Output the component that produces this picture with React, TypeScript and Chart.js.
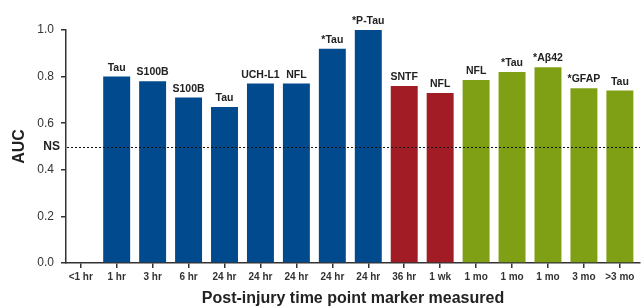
import React, { useEffect, useRef } from "react";
import { Chart, registerables } from "chart.js";

Chart.register(...registerables);

const categories = ["<1 hr", "1 hr", "3 hr", "6 hr", "24 hr", "24 hr", "24 hr", "24 hr", "24 hr", "36 hr", "1 wk", "1 mo", "1 mo", "1 mo", "3 mo", ">3 mo"];
const aucValues: (number | null)[] = [null, 0.8, 0.78, 0.71, 0.67, 0.77, 0.77, 0.92, 1.0, 0.76, 0.73, 0.785, 0.82, 0.84, 0.75, 0.74];
const markers = ["", "Tau", "S100B", "S100B", "Tau", "UCH-L1", "NFL", "*Tau", "*P-Tau", "SNTF", "NFL", "NFL", "*Tau", "*Aβ42", "*GFAP", "Tau"];
const phases = ["", "early", "early", "early", "early", "early", "early", "early", "early", "mid", "mid", "late", "late", "late", "late", "late"];
const yTicks = [0, 0.2, 0.4, 0.6, 0.8, 1.0];
const nsThreshold = 0.5;

const phaseColors: Record<string, string> = {
  early: "#004a8d",
  mid: "#a11c24",
  late: "#7fa014",
  "": "#000000",
};

const FONT = "'Liberation Sans', Arial, Helvetica, sans-serif";

export default function App() {
  const ref = useRef<HTMLCanvasElement | null>(null);

  useEffect(() => {
    document.body.style.margin = "0";
    const canvas = ref.current;
    if (!canvas) return;
    Chart.defaults.font.family = FONT;

    const labelPlugin = {
      id: "barLabels",
      afterDatasetsDraw(chart: any) {
        const ctx = chart.ctx;
        const meta = chart.getDatasetMeta(0);
        ctx.save();
        ctx.font = `bold 10.5px ${FONT}`;
        ctx.fillStyle = "#222";
        ctx.textAlign = "center";
        ctx.textBaseline = "alphabetic";
        meta.data.forEach((el: any, i: number) => {
          if (aucValues[i] == null || !markers[i]) return;
          ctx.fillText(markers[i], el.x, el.y - 6);
        });
        ctx.restore();
      },
    };

    const nsPlugin = {
      id: "nsLine",
      afterDatasetsDraw(chart: any) {
        const ctx = chart.ctx;
        const y = chart.scales.y.getPixelForValue(nsThreshold);
        const { left, right } = chart.chartArea;
        ctx.save();
        ctx.strokeStyle = "#111";
        ctx.lineWidth = 1;
        ctx.setLineDash([2, 2]);
        ctx.beginPath();
        ctx.moveTo(left + 1, Math.round(y) + 0.5);
        ctx.lineTo(right, Math.round(y) + 0.5);
        ctx.stroke();
        ctx.setLineDash([]);
        ctx.font = `bold 12px ${FONT}`;
        ctx.fillStyle = "#222";
        ctx.textAlign = "right";
        ctx.textBaseline = "middle";
        ctx.fillText("NS", left - 6, y);
        ctx.restore();
      },
    };

    const chart = new Chart(canvas, {
      type: "bar",
      data: {
        datasets: [
          {
            data: aucValues.map((v, i) => ({ x: i, y: v })) as any,
            backgroundColor: phases.map((p) => phaseColors[p]),
            borderWidth: 0,
            categoryPercentage: 1,
            barPercentage: 0.75,
          },
        ],
      },
      options: {
        animation: false,
        responsive: false,
        maintainAspectRatio: false,
        layout: { padding: { top: 30, right: 1, left: 0, bottom: 0 } },
        plugins: {
          legend: { display: false },
          tooltip: { enabled: false },
        },
        scales: {
          x: {
            type: "linear",
            offset: false,
            min: -0.41,
            max: 15.56,
            afterBuildTicks: (scale: any) => {
              scale.ticks = categories.map((_, i) => ({ value: i }));
            },
            afterFit: (scale: any) => {
              scale.height = 44;
            },
            ticks: {
              autoSkip: false,
              maxRotation: 0,
              minRotation: 0,
              padding: 3,
              color: "#333",
              font: { size: 10, weight: "bold" },
              callback: (v: any) => categories[Math.round(Number(v))] ?? "",
            },
            grid: {
              display: true,
              offset: false,
              drawOnChartArea: false,
              drawTicks: true,
              tickLength: 5,
              color: "#333",
              lineWidth: 1.5,
            },
            border: { display: true, color: "#333", width: 1.5 },
            title: {
              display: true,
              text: "Post-injury time point marker measured",
              color: "#222",
              font: { size: 16, weight: "bold" },
              padding: { top: 0, bottom: -1.5 },
            },
          },
          y: {
            min: 0,
            max: 1,
            afterBuildTicks: (scale: any) => {
              scale.ticks = yTicks.map((v) => ({ value: v }));
            },
            afterFit: (scale: any) => {
              scale.width = 66;
            },
            ticks: {
              padding: 7,
              color: "#333",
              font: { size: 12 },
              callback: (v: any) => Number(v).toFixed(1),
            },
            grid: {
              display: true,
              drawOnChartArea: false,
              drawTicks: true,
              tickLength: 5,
              color: "#333",
              lineWidth: 1.5,
            },
            border: { display: true, color: "#333", width: 1.5 },
            title: {
              display: true,
              text: "AUC",
              color: "#222",
              font: { size: 16, weight: "bold" },
              padding: { top: 9.5, bottom: 0 },
            },
          },
        },
      },
      plugins: [labelPlugin, nsPlugin],
    } as any);

    return () => chart.destroy();
  }, []);

  return (
    <div style={{ width: 641, height: 307 }}>
      <canvas ref={ref} width={641} height={307} style={{ width: 641, height: 307, display: "block" }} />
    </div>
  );
}
